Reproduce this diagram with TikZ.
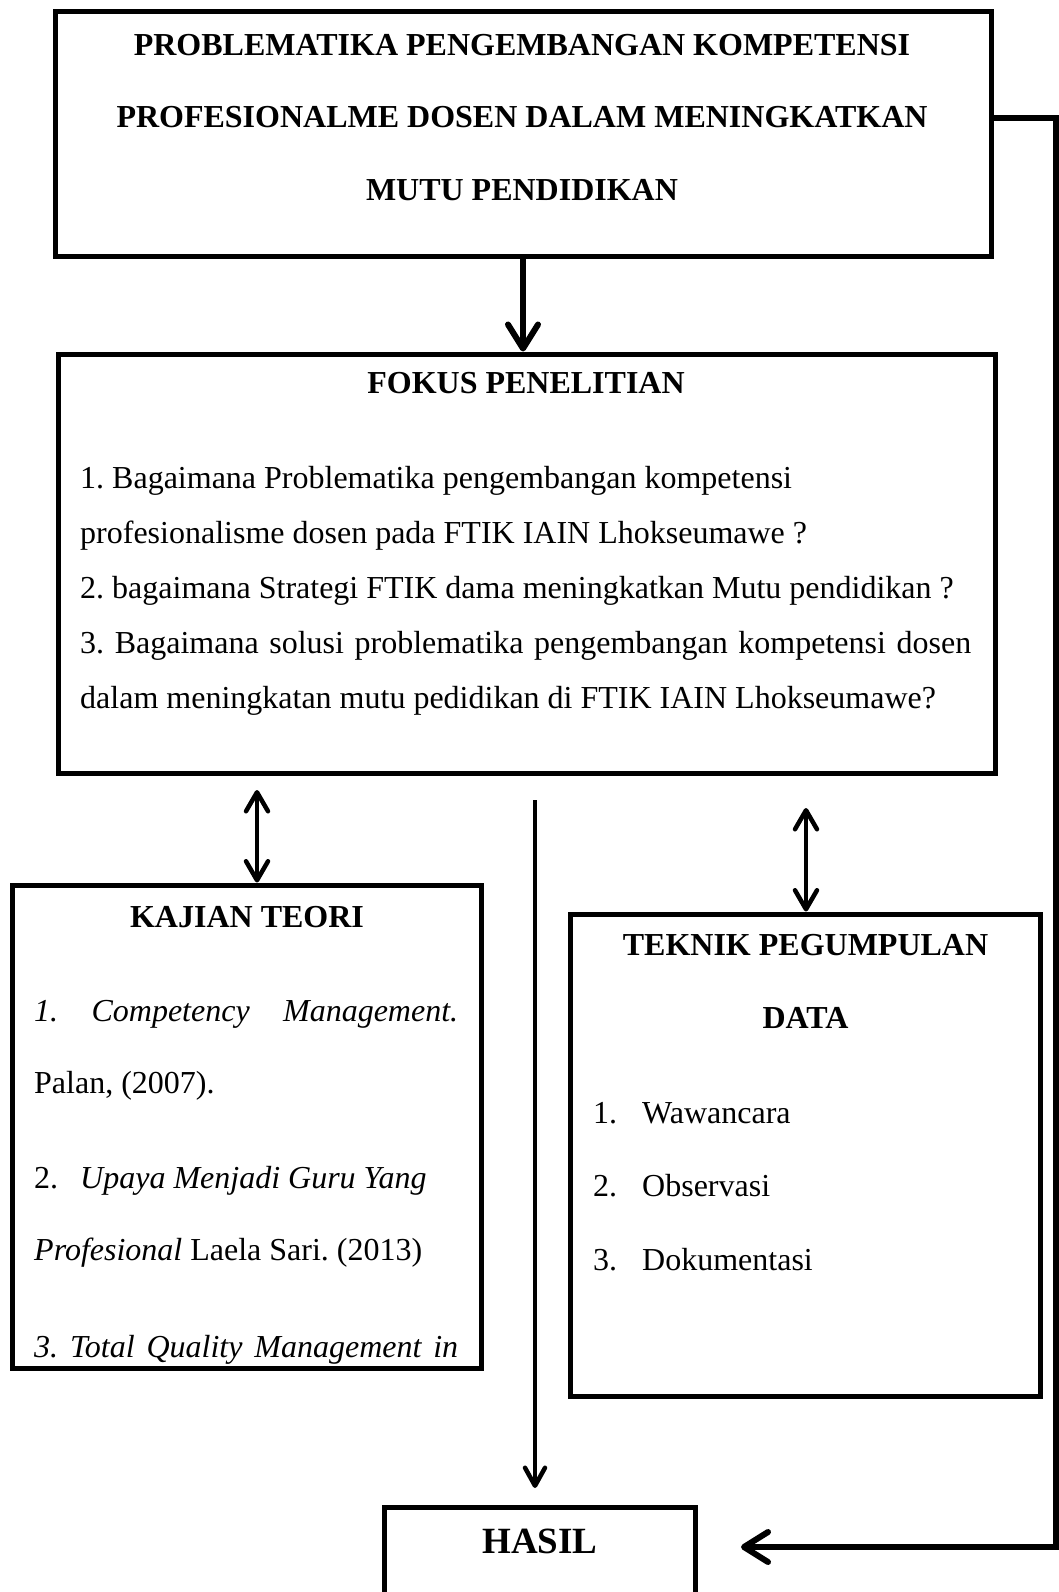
\documentclass[tikz,border=0pt]{standalone}
\usepackage{fontspec}
\setmainfont{Liberation Serif}
\usetikzlibrary{arrows.meta,positioning}
\frenchspacing

\begin{document}
\begin{tikzpicture}[x=1pt, y=-1pt,
    box/.style={draw, line width=5pt, inner sep=0pt},
    head/.style={font=\bfseries\fontsize{32}{72.5}\selectfont, align=center, inner sep=0pt, anchor=base},
    body/.style={font=\fontsize{32}{72.5}\selectfont, align=left, inner sep=0pt, anchor=base west},
    bigarrow/.style={line width=6pt, -{Straight Barb[length=24pt,width=30pt,round]}},
    midarrow/.style={line width=4.5pt, -{Straight Barb[length=18pt,width=20pt,round]}},
    bothways/.style={line width=4.5pt, {Straight Barb[length=19pt,width=22pt,round]}-{Straight Barb[length=19pt,width=22pt,round]}}
  ]
  \useasboundingbox[fill=white] (0,0) rectangle (1059,1592);

  % Boxes
  \node(problem) [box, minimum width=936pt, minimum height=244pt] at (523,134) {};
  \node(fokus) [box, minimum width=937pt, minimum height=419pt] at (526.5,563.5) {};
  \node(kajian) [box, minimum width=469pt, minimum height=483pt] at (246.5,1126.5) {};
  \node(teknik) [box, minimum width=470pt, minimum height=482pt] at (805,1155) {};
  \node(hasil) [box, minimum width=311pt, minimum height=143pt] at (539.5,1578.5) {};

  % Texts (placed at the baseline of their last line)
  \node(problem-title) [head] at (522,200) {PROBLEMATIKA PENGEMBANGAN KOMPETENSI\\
    PROFESIONALME DOSEN DALAM MENINGKATKAN\\ MUTU PENDIDIKAN};

  \node(fokus-title) [head] at (526,393) {FOKUS PENELITIAN};
  \node(fokus-list) [body, font=\fontsize{32}{55}\selectfont] at (80,708) {1. Bagaimana Problematika pengembangan kompetensi\\
    profesionalisme dosen pada FTIK IAIN Lhokseumawe ?\\
    2. bagaimana Strategi FTIK dama meningkatkan Mutu pendidikan ?\\
    \makebox[891pt][s]{3. Bagaimana solusi problematika pengembangan kompetensi dosen}\\
    dalam meningkatan mutu pedidikan di FTIK IAIN Lhokseumawe?};

  \node(kajian-title) [head] at (247,927) {KAJIAN TEORI};
  \node(kajian-list) [body] at (34,1357) {\makebox[424pt][s]{\textit{1. Competency Management.}}\\
    Palan, (2007).\\[22pt]
    2.\hspace{22pt}\textit{Upaya Menjadi Guru Yang}\\
    \textit{Profesional} Laela Sari. (2013)\\[24pt]
    \makebox[424pt][s]{\textit{3. Total Quality Management in}}};

  \node(teknik-title) [head] at (805.5,1028) {TEKNIK PEGUMPULAN\\ DATA};
  \node(teknik-list) [body, font=\fontsize{32}{73.5}\selectfont] at (593,1270) {\makebox[49pt][l]{1.}Wawancara\\
    \makebox[49pt][l]{2.}Observasi\\
    \makebox[49pt][l]{3.}Dokumentasi};

  \node(hasil-title) [head, font=\bfseries\fontsize{37}{40}\selectfont] at (540,1553) {HASIL};

  % Free ends
  \coordinate(loopin) at (991,118);
  \coordinate(loopdown) at (1056,1547);
  \coordinate(hasil-in) at (741,1547);
  \coordinate(mid-top) at (535,800);
  \coordinate(mid-end) at (535,1488);
  \coordinate(kajian-arr) at (257,790);
  \coordinate(teknik-arr) at (806,808);

  % Draw Lines
  \draw[bigarrow] (problem.south) -- (problem.south |- fokus.north);
  \draw[bothways] (kajian-arr) -- (kajian-arr |- kajian.north);
  \draw[bothways] (teknik-arr) -- (teknik-arr |- teknik.north);
  \draw[midarrow] (mid-top) -- (mid-end);
  \draw[bigarrow] (problem.east |- loopin) -| (loopdown) -- (hasil-in);
\end{tikzpicture}
\end{document}
